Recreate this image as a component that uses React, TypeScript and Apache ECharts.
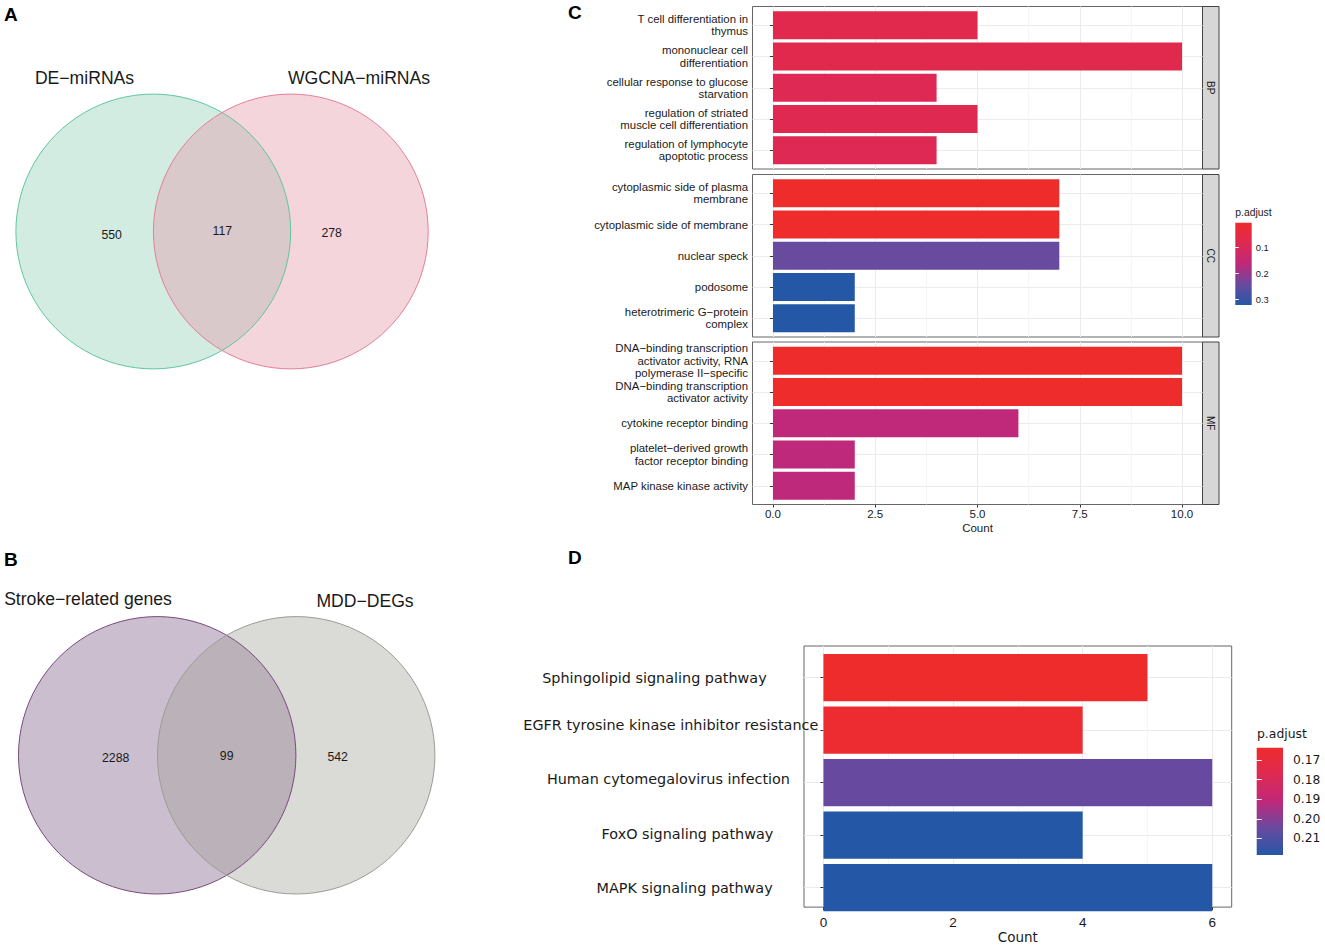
import React, { useEffect, useRef } from "react";
import * as echarts from "echarts";

// ---------------- data ----------------
const vennALabels = ["DE−miRNAs", "WGCNA−miRNAs"];
const vennACounts = [550, 117, 278];
const vennBLabels = ["Stroke−related genes", "MDD−DEGs"];
const vennBCounts = [2288, 99, 542];

const goFacets = ["BP", "CC", "MF"];

const bpTerms = [
  "T cell differentiation in\nthymus",
  "mononuclear cell\ndifferentiation",
  "cellular response to glucose\nstarvation",
  "regulation of striated\nmuscle cell differentiation",
  "regulation of lymphocyte\napoptotic process",
];
const bpCounts = [5, 10, 4, 5, 4];
const bpPadj = [0.072, 0.072, 0.085, 0.078, 0.085];

const ccTerms = [
  "cytoplasmic side of plasma\nmembrane",
  "cytoplasmic side of membrane",
  "nuclear speck",
  "podosome",
  "heterotrimeric G−protein\ncomplex",
];
const ccCounts = [7, 7, 7, 2, 2];
const ccPadj = [0.003, 0.004, 0.243, 0.323, 0.323];

const mfTerms = [
  "DNA−binding transcription\nactivator activity, RNA\npolymerase II−specific",
  "DNA−binding transcription\nactivator activity",
  "cytokine receptor binding",
  "platelet−derived growth\nfactor receptor binding",
  "MAP kinase kinase activity",
];
const mfCounts = [10, 10, 6, 2, 2];
const mfPadj = [0.003, 0.003, 0.163, 0.165, 0.165];

const goCountRange = [-0.5, 10.5];
const goCountTicks = [0, 2.5, 5, 7.5, 10];
const goCountMinor = [1.25, 3.75, 6.25, 8.75];
const goPadjRange = [0.003, 0.323];
const goPadjTicks = [0.1, 0.2, 0.3];

const keggTerms = [
  "Sphingolipid signaling pathway",
  "EGFR tyrosine kinase inhibitor resistance",
  "Human cytomegalovirus infection",
  "FoxO signaling pathway",
  "MAPK signaling pathway",
];
const keggCounts = [5, 4, 6, 4, 6];
const keggPadj = [0.1637, 0.165, 0.205, 0.2185, 0.2185];
const keggCountRange = [-0.3, 6.3];
const keggCountTicks = [0, 2, 4, 6];
const keggCountMinor = [1, 3, 5];
const keggPadjRange = [0.1637, 0.2185];
const keggPadjTicks = [0.17, 0.18, 0.19, 0.2, 0.21];

// ---------------- style / layout ----------------
const PALETTE = ["#ee2c2c", "#de2952", "#c0287a", "#684a9f", "#2557a7"];
const SANS = "'Liberation Sans', Arial, sans-serif";
const DEJAVU = "'DejaVu Sans', sans-serif";
const TEXT = "#1a1a1a";
const GRID_MAJOR = "#ebebeb";
const GRID_MINOR = "#f4f4f4";
const BORDER = "#666666";

const C_LEFT = 752.5;
const C_W = 450;
const C_TOPS = [6.5, 174.5, 342];
const C_H = 162.5;
const STRIP_W = 16.5;

const D_LEFT = 804;
const D_TOP = 646;
const D_W = 427.7;
const D_H = 273;
// per-label nudges reproducing the irregular label placement of panel D
const keggLabelPadRight = [51.6, 0, 28.3, 45, 45.6];
const keggLabelRaise = [0, 5, 4, 1.5, 0];

function buildOption() {
  const grids: any[] = [];
  const xAxes: any[] = [];
  const yAxes: any[] = [];
  const series: any[] = [];

  function addBarPanel(o: any) {
    const n = o.terms.length;
    const unit = o.height / (n + 0.2);
    const outer = grids.length;
    grids.push({
      left: o.left, top: o.top, width: o.width, height: o.height,
      show: true, borderColor: BORDER, borderWidth: 1, backgroundColor: "#fff",
    });
    const inner = grids.length;
    grids.push({ left: o.left, top: o.top + 0.1 * unit, width: o.width, height: n * unit });

    xAxes.push({
      gridIndex: outer, type: "value", min: o.range[0], max: o.range[1], position: "bottom",
      axisLine: { show: false },
      axisTick: { show: o.bottom, customValues: o.ticks, length: 3, lineStyle: { color: "#333" } },
      axisLabel: {
        show: o.bottom, customValues: o.ticks, formatter: o.fmt, margin: o.labelMargin,
        fontSize: o.tickFont, fontFamily: SANS, color: TEXT,
      },
      splitLine: { show: true, lineStyle: { color: GRID_MAJOR, width: 1 } },
      name: o.bottom ? "Count" : "",
      nameLocation: "middle",
      nameGap: o.nameGap,
      nameTextStyle: { fontSize: o.nameFont, fontFamily: o.nameFamily, color: TEXT },
    });
    xAxes.push({
      gridIndex: outer, type: "value", min: o.range[0], max: o.range[1], position: "top",
      axisLine: { show: false },
      axisTick: { show: false, customValues: o.minor },
      axisLabel: { show: false, customValues: o.minor },
      splitLine: { show: true, lineStyle: { color: GRID_MINOR, width: 0.8 } },
    });
    yAxes.push({ gridIndex: outer, type: "value", min: 0, max: 1, show: false });

    const innerX = xAxes.length;
    xAxes.push({ gridIndex: inner, type: "value", min: o.range[0], max: o.range[1], show: false });
    const innerY = yAxes.length;
    yAxes.push({
      gridIndex: inner, type: "category", inverse: true, data: o.yData,
      axisLine: { show: false },
      axisTick: { show: true, alignWithLabel: true, interval: 0, length: 3, lineStyle: { color: "#333" } },
      axisLabel: {
        interval: 0, margin: o.yMargin, fontSize: o.yFont, lineHeight: o.yLineHeight,
        fontFamily: o.yFamily, color: TEXT,
      },
      splitLine: { show: true, alignWithLabel: true, interval: 0, lineStyle: { color: GRID_MAJOR, width: 1 } },
    });
    series.push({
      type: "bar", xAxisIndex: innerX, yAxisIndex: innerY, barWidth: "90%",
      data: o.terms.map((_: string, i: number) => [o.counts[i], i, o.padj[i]]),
      encode: { x: 0, y: 1 },
    });
  }

  function addColorbar(o: any) {
    const g = grids.length;
    grids.push({
      left: o.left, top: o.top, width: o.width, height: o.height, show: true, borderWidth: 0,
      backgroundColor: {
        type: "linear", x: 0, y: 0, x2: 0, y2: 1,
        colorStops: PALETTE.map((c, i) => ({ offset: i / (PALETTE.length - 1), color: c })),
      },
    });
    xAxes.push({ gridIndex: g, type: "value", min: 0, max: 1, show: false });
    const common = {
      gridIndex: g, type: "value", inverse: true, min: o.range[0], max: o.range[1],
      axisLine: { show: false }, splitLine: { show: false },
      axisTick: { show: true, inside: true, length: o.tickLen, customValues: o.ticks, lineStyle: { color: "#ffffff", width: 1 } },
    };
    yAxes.push({
      ...common, position: "right",
      axisLabel: {
        customValues: o.ticks, formatter: o.fmt, margin: o.margin,
        fontSize: o.font, fontFamily: o.family, color: TEXT,
      },
    });
    yAxes.push({ ...common, position: "left", axisLabel: { show: false, customValues: o.ticks } });
  }

  const goSets = [
    [bpTerms, bpCounts, bpPadj],
    [ccTerms, ccCounts, ccPadj],
    [mfTerms, mfCounts, mfPadj],
  ];
  goSets.forEach((s, k) => {
    addBarPanel({
      left: C_LEFT, top: C_TOPS[k], width: C_W, height: C_H,
      range: goCountRange, ticks: goCountTicks, minor: goCountMinor,
      fmt: (v: number) => v.toFixed(1), bottom: k === 2, labelMargin: 3, tickFont: 11.5,
      nameGap: 17, nameFont: 11.5, nameFamily: SANS,
      terms: s[0], counts: s[1], padj: s[2], yData: s[0],
      yMargin: 4.5, yFont: 11.4, yLineHeight: 12.3, yFamily: SANS,
    });
  });

  addBarPanel({
    left: D_LEFT, top: D_TOP, width: D_W, height: D_H,
    range: keggCountRange, ticks: keggCountTicks, minor: keggCountMinor,
    fmt: (v: number) => String(v), bottom: true, labelMargin: 8, tickFont: 13.5,
    nameGap: 11, nameFont: 13.5, nameFamily: DEJAVU,
    terms: keggTerms, counts: keggCounts, padj: keggPadj,
    yData: keggTerms.map((t, i) => ({
      value: t,
      textStyle:
        keggLabelRaise[i] > 0
          ? { padding: [0, keggLabelPadRight[i], 0, 0], verticalAlign: "bottom", lineHeight: keggLabelRaise[i] * 2 }
          : { padding: [0, keggLabelPadRight[i], 0, 0] },
    })),
    yMargin: -14.3, yFont: 14.4, yLineHeight: 17, yFamily: DEJAVU,
  });

  addColorbar({
    left: 1235.3, top: 222.7, width: 16.4, height: 82.3, range: goPadjRange, ticks: goPadjTicks,
    fmt: (v: number) => v.toFixed(1), tickLen: 3.5, margin: 4, font: 9.4, family: SANS,
  });
  addColorbar({
    left: 1256.7, top: 747.7, width: 26.3, height: 107.3, range: keggPadjRange, ticks: keggPadjTicks,
    fmt: (v: number) => v.toFixed(2), tickLen: 5, margin: 10, font: 12.3, family: DEJAVU,
  });

  // ---------- graphic elements (Venn diagrams, strips, titles, letters) ----------
  const g: any[] = [];
  const txt = (x: number, y: number, text: string, size: number, extra: any = {}) => ({
    type: "text", x, y, ...extra.el,
    style: {
      text, fontSize: size, fontFamily: extra.family || SANS, fill: extra.fill || TEXT,
      align: extra.align || "center", verticalAlign: "middle", fontWeight: extra.weight || "normal",
    },
  });

  function venn(o: any) {
    g.push({ type: "circle", shape: { cx: o.c1[0], cy: o.c1[1], r: o.r }, style: { fill: o.fill1, stroke: "none" } });
    g.push({ type: "circle", shape: { cx: o.c2[0], cy: o.c2[1], r: o.r }, style: { fill: o.fill2, stroke: "none" } });
    g.push({ type: "circle", shape: { cx: o.c1[0], cy: o.c1[1], r: o.r }, style: { fill: "none", stroke: o.stroke1, lineWidth: 1 } });
    g.push({ type: "circle", shape: { cx: o.c2[0], cy: o.c2[1], r: o.r }, style: { fill: "none", stroke: o.stroke2, lineWidth: 1 } });
    o.labels.forEach((l: string, i: number) => g.push(txt(o.labelPos[i][0], o.labelPos[i][1], l, 17.6)));
    o.counts.forEach((c: number, i: number) => g.push(txt(o.countPos[i][0], o.countPos[i][1], String(c), 12.3)));
  }

  venn({
    c1: [153.3, 231.5], c2: [290.8, 231.5], r: 137.4,
    fill1: "rgb(211,236,226)", fill2: "rgba(229,145,163,0.38)",
    stroke1: "#5fc6a2", stroke2: "#e47f98",
    labels: vennALabels, labelPos: [[84.5, 78], [359, 78]],
    counts: vennACounts, countPos: [[111.7, 235], [222.3, 231], [331.7, 233.3]],
  });
  venn({
    c1: [157.2, 755.3], c2: [296.2, 755.3], r: 138.7,
    fill1: "rgb(203,190,207)", fill2: "rgba(158,158,147,0.38)",
    stroke1: "#7a4a80", stroke2: "#9c9c96",
    labels: vennBLabels, labelPos: [[88, 599.3], [365, 601]],
    counts: vennBCounts, countPos: [[115.7, 758.3], [226.7, 755.7], [337.7, 757.3]],
  });

  goFacets.forEach((f, k) => {
    g.push({
      type: "rect", shape: { x: C_LEFT + C_W, y: C_TOPS[k], width: STRIP_W, height: C_H },
      style: { fill: "#d6d6d6", stroke: "#444", lineWidth: 1 },
    });
    g.push(txt(C_LEFT + C_W + STRIP_W / 2, C_TOPS[k] + C_H / 2, f, 10, { el: { rotation: -Math.PI / 2 } }));
  });

  g.push(txt(1235.3, 212.3, "p.adjust", 10.4, { align: "left" }));
  g.push(txt(1257, 733.5, "p.adjust", 12.4, { align: "left", family: DEJAVU }));

  const letters: [string, number, number][] = [["A", 4, 14.5], ["B", 4, 559], ["C", 568, 12], ["D", 568, 557]];
  letters.forEach(([l, x, y]) => g.push(txt(x, y, l, 19, { align: "left", weight: "bold", fill: "#000" })));

  return {
    animation: false,
    backgroundColor: "#ffffff",
    textStyle: { fontFamily: SANS },
    grid: grids,
    xAxis: xAxes,
    yAxis: yAxes,
    series,
    visualMap: [
      { type: "continuous", show: false, seriesIndex: [0, 1, 2], dimension: 2, min: goPadjRange[0], max: goPadjRange[1], inRange: { color: PALETTE } },
      { type: "continuous", show: false, seriesIndex: [3], dimension: 2, min: keggPadjRange[0], max: keggPadjRange[1], inRange: { color: PALETTE } },
    ],
    graphic: { elements: g },
  };
}

export default function App() {
  const ref = useRef<HTMLDivElement>(null);
  useEffect(() => {
    if (!ref.current) return;
    const chart = echarts.init(ref.current, undefined, { renderer: "svg" });
    chart.setOption(buildOption() as any);
    return () => chart.dispose();
  }, []);
  return (
    <div
      ref={ref}
      style={{ position: "absolute", left: 0, top: 0, width: 1325, height: 945, background: "#fff" }}
    />
  );
}
